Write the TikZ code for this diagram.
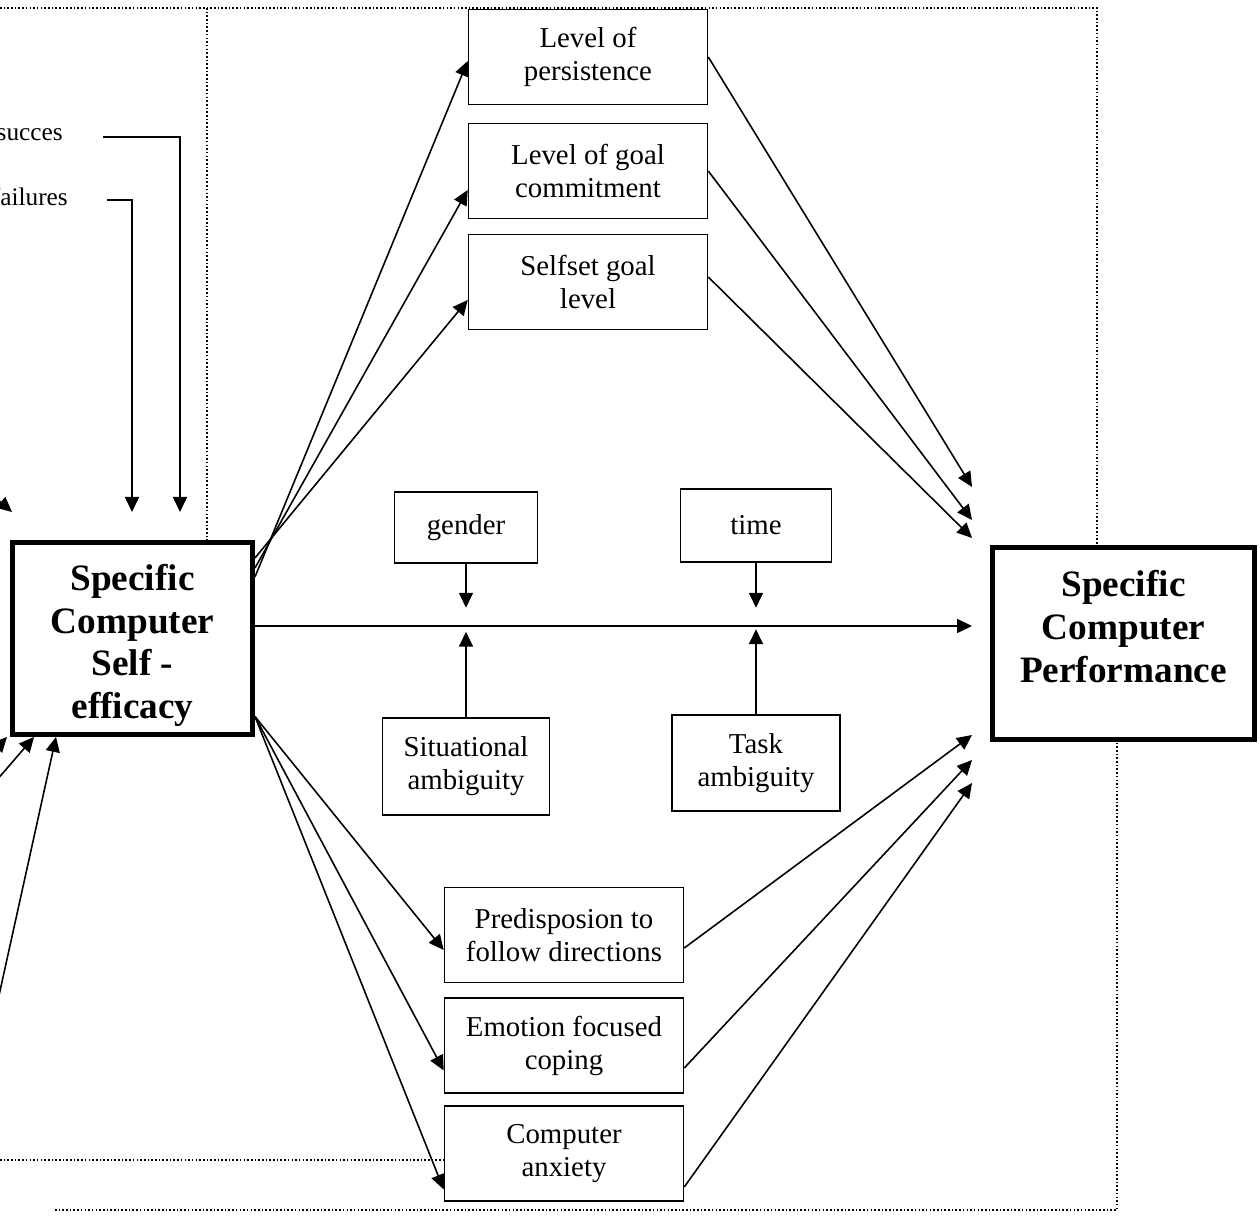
\documentclass[tikz,border=0pt]{standalone}
\usepackage{fontspec}
\setmainfont{Liberation Serif}
\usetikzlibrary{arrows.meta,positioning}

\begin{document}
\begin{tikzpicture}[>={Triangle[length=0.15cm,width=0.14cm]},
    box/.style={draw,line width=0.45pt,minimum width=2.39cm,minimum height=0.95cm,
        align=center,inner sep=1pt,font=\fontsize{8.2}{9.4}\selectfont},
    mainbox/.style={draw,line width=1.4pt,minimum width=2.4cm,minimum height=1.92cm,
        align=center,inner sep=1pt,font=\fontsize{10.6}{12.2}\selectfont\bfseries},
    lbl/.style={inner sep=1pt,font=\fontsize{7.2}{8.4}\selectfont},
    dotline/.style={line width=0.45pt,dash pattern=on 0.45pt off 0.6pt},
    conn/.style={line width=0.45pt}]
    \useasboundingbox (0,0) rectangle (12.6,-12.16);

    % main constructs
    \node[mainbox] (scse) at (1.325,-6.385)
        {\rule{0pt}{0.40cm}Specific\\Computer\\Self -\\efficacy};
    \node[mainbox,minimum width=2.62cm] (scp) at (11.235,-6.435)
        {Specific\\Computer\\Performance\\[-0.08cm]\mbox{}};

    % mediators
    \node[box] (persist) at (5.88,-0.57) {Level of\\persistence};
    \node[box] (commit) at (5.88,-1.71) {Level of goal\\commitment};
    \node[box] (selfset) at (5.88,-2.82) {Selfset goal\\level};
    \node[box] (predis) at (5.64,-9.35) {Predisposion to\\follow directions};
    \node[box] (emot) at (5.64,-10.455) {Emotion focused\\coping};
    \node[box] (anx) at (5.64,-11.535) {Computer\\anxiety};

    % moderators
    \node[box,minimum width=1.43cm,minimum height=0.71cm] (gender) at (4.66,-5.275) {gender};
    \node[box,minimum width=1.51cm,minimum height=0.73cm] (time) at (7.56,-5.255) {time};
    \node[box,minimum width=1.67cm,minimum height=0.97cm] (situ) at (4.66,-7.665) {Situational\\ambiguity};
    \node[box,minimum width=1.68cm,minimum height=0.96cm] (task) at (7.56,-7.63) {Task\\ambiguity};

    % sources on the left
    \node[lbl,anchor=east] (succ) at (0.67,-1.35) {succes};
    \node[lbl,anchor=east] (fail) at (0.72,-1.97) {failures};

    % frames
    \draw[dotline] (0,-0.08) -- (10.97,-0.08) -- (10.97,-0.08 |- scp.north);
    \draw[dotline] (2.07,-0.08) -- (2.07,-0.08 |- scse.north);
    \draw[dotline] (0,-11.60) -- (anx.west |- 0,-11.60);
    \draw[dotline] (0.55,-12.10) -- (11.17,-12.10) -- (11.17,-12.10 |- scp.south);

    % inputs to self-efficacy
    \coordinate (succend) at (1.80,-5.12);
    \coordinate (failend) at (1.32,-5.12);
    \draw[conn,->] ([xshift=0.36cm,yshift=-0.02cm]succ.east) -| (succend);
    \draw[conn,->] ([xshift=0.35cm,yshift=-0.03cm]fail.east) -| (failend);
    \coordinate (offa) at (-0.3,-4.76);
    \coordinate (offb) at (-0.2,-7.66);
    \coordinate (offc) at (-0.1,-7.88);
    \coordinate (offd) at (-0.02,-10.0);
    \draw[conn,->] (offa) -- ([xshift=0.02cm,yshift=0.28cm]scse.north west);
    \draw[conn,->] (offb) -- ([xshift=-0.03cm]scse.south west);
    \draw[conn,->] (offc) -- ([xshift=0.24cm]scse.south west);
    \draw[conn,->] (offd) -- ([xshift=0.46cm]scse.south west);

    % self-efficacy to mediators
    \draw[conn,->] ([yshift=0.615cm]scse.east) -- ([yshift=-0.04cm]persist.west);
    \draw[conn,->] ([yshift=0.705cm]scse.east) -- ([yshift=-0.19cm]commit.west);
    \draw[conn,->] ([yshift=0.805cm]scse.east) -- ([yshift=-0.18cm]selfset.west);
    \draw[conn,->] ([yshift=-0.78cm]scse.east) -- ([yshift=-0.15cm]predis.west);
    \draw[conn,->] ([yshift=-0.78cm]scse.east) -- ([yshift=-0.25cm]emot.west);
    \draw[conn,->] ([yshift=-0.78cm]scse.east) -- ([yshift=-0.36cm]anx.west);

    % mediators to performance
    \coordinate (scpin) at ([xshift=-0.18cm]scp.west);
    \draw[conn,->] (persist.east) -- ([yshift=1.565cm]scpin);
    \draw[conn,->] (commit.east) -- ([yshift=1.235cm]scpin);
    \draw[conn,->] ([yshift=0.05cm]selfset.east) -- ([yshift=1.055cm]scpin);
    \draw[conn,->] ([yshift=-0.13cm]predis.east) -- ([yshift=-0.915cm]scpin);
    \draw[conn,->] ([yshift=-0.225cm]emot.east) -- ([yshift=-1.165cm]scpin);
    \draw[conn,->] ([yshift=-0.335cm]anx.east) -- ([yshift=-1.395cm]scpin);

    % direct path and moderators
    \draw[conn,->] ([yshift=0.125cm]scse.east) -- ([yshift=0.175cm]scpin);
    \draw[conn,->] (gender.south) -- ++(0,-0.44);
    \draw[conn,->] (time.south) -- ++(0,-0.45);
    \draw[conn,->] (situ.north) -- ++(0,0.855);
    \draw[conn,->] (task.north) -- ++(0,0.85);
\end{tikzpicture}
\end{document}
